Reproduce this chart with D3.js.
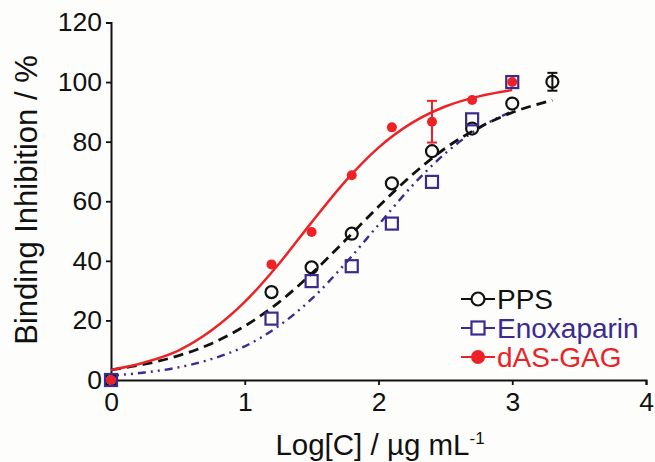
<!DOCTYPE html>
<html>
<head>
<meta charset="utf-8">
<script src="https://cdn.jsdelivr.net/npm/d3@7/dist/d3.min.js"></script>
<style>
  html, body { margin: 0; padding: 0; background: #fdfdfb; }
  svg { display: block; }
  text { font-family: "Liberation Sans", Arial, Helvetica, sans-serif; }
</style>
</head>
<body>
<svg id="chart" width="655" height="462"></svg>
<script>
// ---- data ----
const xTicks = [0, 1, 2, 3, 4];
const xMinorTicks = [0.2,0.4,0.6,0.8,1.2,1.4,1.6,1.8,2.2,2.4,2.6,2.8,3.2,3.4,3.6,3.8];
const yTicks = [0, 20, 40, 60, 80, 100, 120];
const yMinorTicks = [10, 30, 50, 70, 90, 110];

const ppsX   = [0, 1.2, 1.5, 1.8, 2.1, 2.4, 2.7, 3.0, 3.3];
const ppsY   = [0, 29.5, 37.8, 49.1, 66.0, 76.8, 84.4, 92.8, 100.1];
const ppsErr = [0, 0, 0, 0, 0, 0, 0, 0, 3];

const enoX   = [0, 1.2, 1.5, 1.8, 2.1, 2.4, 2.7, 3.0];
const enoY   = [0, 20.6, 33.2, 38.2, 52.5, 66.5, 87.5, 100];

const dasX   = [0, 1.2, 1.5, 1.8, 2.1, 2.4, 2.7, 3.0];
const dasY   = [0, 38.8, 49.7, 68.7, 84.8, 86.7, 94.0, 100];
const dasErr = [0, 0, 0, 0, 0, 7, 0, 0];

// fitted curves
const ppsFitX = [0, 0.25, 0.5, 0.75, 1, 1.25, 1.5, 1.75, 2, 2.25, 2.5, 2.75, 3, 3.3];
const ppsFitY = [3.4, 5.3, 8.1, 12.2, 18.1, 25.9, 35.7, 46.8, 58.2, 68.8, 77.8, 84.7, 89.8, 93.9];
const enoFitX = [0, 0.25, 0.5, 0.75, 1, 1.25, 1.5, 1.75, 2, 2.25, 2.5, 2.75, 3];
const enoFitY = [1.5, 2.5, 4.2, 7.0, 11.3, 18.0, 27.2, 39.0, 52.1, 65.1, 76.1, 84.5, 90.2];
const dasFitX = [0, 0.25, 0.5, 0.75, 1, 1.25, 1.5, 1.75, 2, 2.25, 2.5, 2.75, 3];
const dasFitY = [3.4, 5.9, 9.8, 16.6, 26.2, 38.7, 52.9, 66.6, 78.0, 86.3, 91.8, 95.2, 97.3];

const legendLabels = ["PPS", "Enoxaparin", "dAS-GAG"];

// ---- styles ----
const BLACK = "#111111", PURPLE = "#3b2a8f", RED = "#ec2227";

const svg = d3.select("#chart");
const x = d3.scaleLinear().domain([0, 4]).range([111, 646]);
const y = d3.scaleLinear().domain([0, 120]).range([380, 22.5]);

function zip(a, b, e) { return a.map((v, i) => ({x: v, y: b[i], e: e ? e[i] : 0})); }

// axes
const axisFont = "26.5px";
const gy = svg.append("g").attr("transform", `translate(${x(0)},0)`);
gy.call(d3.axisLeft(y).tickValues(yMinorTicks).tickSize(3).tickFormat(""));
gy.call(d3.axisLeft(y).tickValues(yTicks).tickSize(5).tickPadding(4).tickFormat(d3.format("d")));
const gx = svg.append("g").attr("transform", `translate(0,${y(0)})`);
gx.call(d3.axisBottom(x).tickValues(xMinorTicks).tickSize(3).tickFormat(""));
gx.call(d3.axisBottom(x).tickValues(xTicks).tickSize(5).tickPadding(7).tickFormat(d3.format("d")));
[gx, gy].forEach(g => {
  g.selectAll("path.domain").attr("stroke", BLACK).attr("stroke-width", 2);
  g.selectAll(".tick line").attr("stroke", BLACK).attr("stroke-width", 1.8);
  g.selectAll(".tick text").attr("fill", BLACK).style("font-size", axisFont)
    .style("font-family", "'Liberation Sans', Arial, sans-serif");
});

// axis titles
svg.append("text")
  .attr("transform", `translate(37,200) rotate(-90)`)
  .attr("text-anchor", "middle")
  .style("font-size", "31px").attr("fill", BLACK)
  .text("Binding Inhibition / %");
const xt = svg.append("text")
  .attr("x", 380).attr("y", 455)
  .attr("text-anchor", "middle")
  .style("font-size", "29.5px").attr("fill", BLACK);
xt.append("tspan").text("Log[C] / µg mL");
xt.append("tspan").attr("dy", -11).style("font-size", "17px").text("-1");

// curves
const line = d3.line().x(d => x(d.x)).y(d => y(d.y)).curve(d3.curveMonotoneX);
svg.append("path").datum(zip(enoFitX, enoFitY))
  .attr("d", line).attr("fill", "none").attr("stroke", PURPLE)
  .attr("stroke-width", 2.4).attr("stroke-dasharray", "8,5,2,5,2,5");
svg.append("path").datum(zip(ppsFitX, ppsFitY))
  .attr("d", line).attr("fill", "none").attr("stroke", BLACK)
  .attr("stroke-width", 2.8).attr("stroke-dasharray", "10,6");
svg.append("path").datum(zip(dasFitX, dasFitY))
  .attr("d", line).attr("fill", "none").attr("stroke", RED)
  .attr("stroke-width", 2.5);

// error bars
function errorBars(data, color) {
  const g = svg.append("g").attr("stroke", color).attr("stroke-width", 2);
  data.filter(d => d.e > 0).forEach(d => {
    g.append("line").attr("x1", x(d.x)).attr("x2", x(d.x)).attr("y1", y(d.y - d.e)).attr("y2", y(d.y + d.e));
    g.append("line").attr("x1", x(d.x) - 5).attr("x2", x(d.x) + 5).attr("y1", y(d.y - d.e)).attr("y2", y(d.y - d.e));
    g.append("line").attr("x1", x(d.x) - 5).attr("x2", x(d.x) + 5).attr("y1", y(d.y + d.e)).attr("y2", y(d.y + d.e));
  });
}
errorBars(zip(ppsX, ppsY, ppsErr), BLACK);
errorBars(zip(dasX, dasY, dasErr), RED);

// markers
svg.append("g").selectAll("circle").data(zip(ppsX, ppsY)).join("circle")
  .attr("cx", d => x(d.x)).attr("cy", d => y(d.y)).attr("r", 6)
  .attr("fill", "none").attr("stroke", BLACK).attr("stroke-width", 2.2);
svg.append("g").selectAll("rect").data(zip(enoX, enoY)).join("rect")
  .attr("x", d => x(d.x) - 6).attr("y", d => y(d.y) - 6).attr("width", 12).attr("height", 12)
  .attr("fill", "none").attr("stroke", PURPLE).attr("stroke-width", 2.2);
svg.append("g").selectAll("circle").data(zip(dasX, dasY)).join("circle")
  .attr("cx", d => x(d.x)).attr("cy", d => y(d.y)).attr("r", 5)
  .attr("fill", RED);

// legend
const legColors = [BLACK, PURPLE, RED];
const legY = [299, 328, 357];
legendLabels.forEach((lab, i) => {
  const g = svg.append("g").attr("transform", `translate(0,${legY[i]})`);
  g.append("line").attr("x1", 461).attr("x2", 495).attr("y1", 0).attr("y2", 0)
    .attr("stroke", legColors[i]).attr("stroke-width", 2);
  if (i === 0) {
    g.append("circle").attr("cx", 478).attr("cy", 0).attr("r", 6.5)
      .attr("fill", "#fdfdfb").attr("stroke", BLACK).attr("stroke-width", 2.2);
  } else if (i === 1) {
    g.append("rect").attr("x", 471.5).attr("y", -6.5).attr("width", 13).attr("height", 13)
      .attr("fill", "#fdfdfb").attr("stroke", PURPLE).attr("stroke-width", 2.2);
  } else {
    g.append("circle").attr("cx", 478).attr("cy", 0).attr("r", 7).attr("fill", RED);
  }
  g.append("text").attr("x", 497).attr("y", 0).attr("dy", "0.36em")
    .style("font-size", "28px").attr("fill", legColors[i]).text(lab);
});
</script>
</body>
</html>
